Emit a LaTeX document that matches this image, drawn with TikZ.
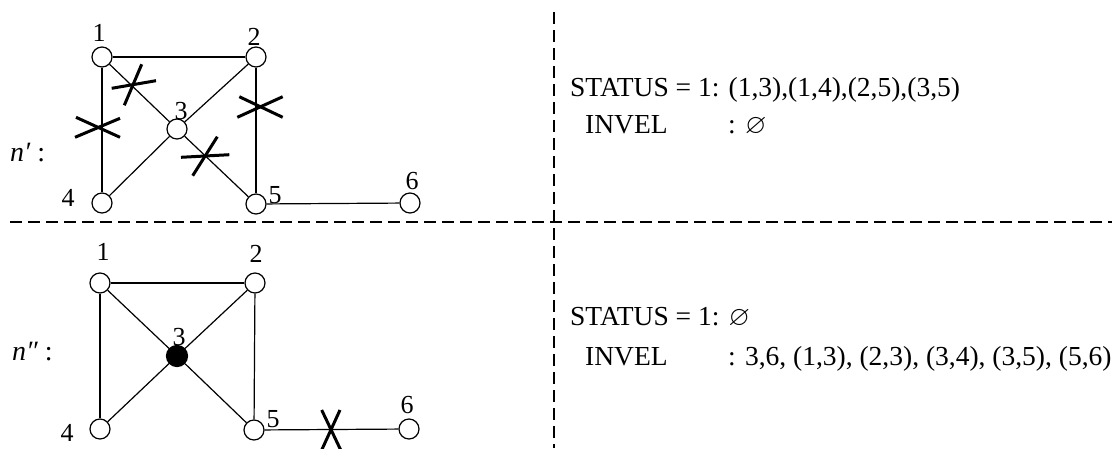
\documentclass[tikz,border=0pt]{standalone}
\usepackage{fontspec}
\setmainfont{Liberation Serif}
\usepackage{amssymb}
\begin{document}
\begin{tikzpicture}[x=1pt,y=-1pt,
  vert/.style={circle,draw,line width=1.2pt,minimum size=20pt,inner sep=0pt,fill=white},
  filled/.style={vert,fill=black,minimum size=21pt},
  lbl/.style={inner sep=0pt,font=\fontsize{26}{30}\selectfont},
  txt/.style={inner sep=0pt,anchor=base west,font=\fontsize{27.5}{33}\selectfont},
  edge/.style={line width=1.2pt},
  cut/.style={line width=3pt},
  sep/.style={line width=1.3pt,dash pattern=on 12pt off 6pt}]
\useasboundingbox (0,0) rectangle (1112,448);
% separators
\coordinate (hl) at (10,222);
\coordinate (hr) at (1112,222);
\coordinate (vt) at (554,12);
\coordinate (vb) at (554,448);
\draw[sep] (hl) -- (hr);
\draw[sep] (vt) -- (vb);
% top graph
\node[vert] (a1) at (102,57) {};
\node[vert] (a2) at (256,57) {};
\node[vert] (a3) at (177,129) {};
\node[vert] (a4) at (102,203) {};
\node[vert] (a5) at (256,204) {};
\node[vert] (a6) at (410,203) {};
\draw[edge] (a1) -- (a2);
\draw[edge] (a1) -- (a3);
\draw[edge] (a1) -- (a4);
\draw[edge] (a2) -- (a3);
\draw[edge] (a2) -- (a5);
\draw[edge] (a3) -- (a4);
\draw[edge] (a3) -- (a5);
\draw[edge] (a5) -- (a6);
\node[lbl] (la1) at (99,33) {1};
\node[lbl] (la2) at (254,37) {2};
\node[lbl] (la3) at (181,111) {3};
\node[lbl] (la4) at (68,198) {4};
\node[lbl] (la5) at (275,195) {5};
\node[lbl] (la6) at (412,181) {6};
% crosses top
\draw[cut] (111.7,88.3) -- (156,80.7);
\draw[cut] (141.7,64.3) -- (124.3,105.3);
\draw[cut] (75,137.3) -- (120,118.3);
\draw[cut] (76,117.3) -- (120,137.3);
\draw[cut] (237.3,117.3) -- (282.7,96.7);
\draw[cut] (239.3,96.7) -- (282.7,117.3);
\draw[cut] (181,157.3) -- (229.3,154.7);
\draw[cut] (217.3,136.7) -- (192.7,175.7);
\node[inner sep=0pt,anchor=base west,font=\fontsize{28}{33}\selectfont] (np) at (10,161) {\itshape n′\upshape\ :};
% bottom graph
\node[vert] (b1) at (100,283) {};
\node[vert] (b2) at (255,283) {};
\node[filled] (b3) at (177,356) {};
\node[vert] (b4) at (100,429) {};
\node[vert] (b5) at (254,430) {};
\node[vert] (b6) at (409,429) {};
\draw[edge] (b1) -- (b2);
\draw[edge] (b1) -- (b3);
\draw[edge] (b1) -- (b4);
\draw[edge] (b2) -- (b3);
\draw[edge] (b2) -- (b5);
\draw[edge] (b3) -- (b4);
\draw[edge] (b3) -- (b5);
\draw[edge] (b5) -- (b6);
\node[lbl] (lb1) at (103,252) {1};
\node[lbl] (lb2) at (256,254) {2};
\node[lbl] (lb3) at (179,337) {3};
\node[lbl] (lb4) at (67,433) {4};
\node[lbl] (lb5) at (273,419) {5};
\node[lbl] (lb6) at (407,405) {6};
\draw[cut] (321.7,410) -- (340.7,450);
\draw[cut] (340,410) -- (321.7,450);
\node[inner sep=0pt,anchor=base west,font=\fontsize{28}{33}\selectfont] (npp) at (12,360) {\itshape n″\upshape\ :};
% texts
\node[txt] (s1) at (570,96) {STATUS = 1: (1,3),(1,4),(2,5),(3,5)};
\node[txt] (i1) at (585,133) {INVEL};
\node[txt] (i1v) at (728,133) {: $\varnothing$};
\node[txt] (s2) at (570,325) {STATUS = 1: $\varnothing$};
\node[txt] (i2) at (585,365) {INVEL};
\node[txt] (i2v) at (728,365) {: 3,6, (1,3), (2,3), (3,4), (3,5), (5,6)};
\end{tikzpicture}
\end{document}
